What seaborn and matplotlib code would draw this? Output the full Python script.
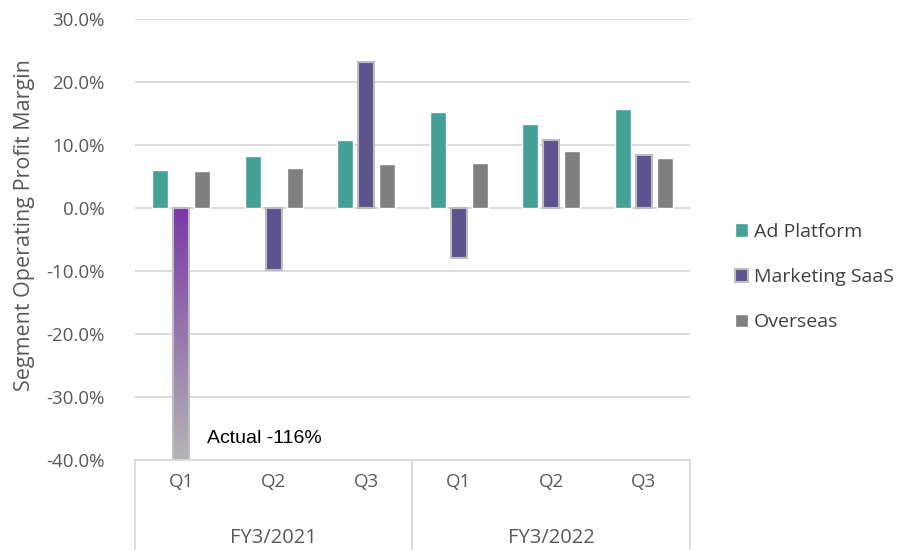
import numpy as np
import pandas as pd
import matplotlib.pyplot as plt
import matplotlib.colors as mcolors
from matplotlib.patches import Patch
import seaborn as sns

# data (percent)
fiscal_years = ["FY3/2021", "FY3/2022"]
quarters = ["Q1", "Q2", "Q3", "Q1", "Q2", "Q3"]
periods = ["FY3/2021 Q1", "FY3/2021 Q2", "FY3/2021 Q3",
           "FY3/2022 Q1", "FY3/2022 Q2", "FY3/2022 Q3"]
segments = ["Ad Platform", "Marketing SaaS", "Overseas"]
ad_platform = [6.0, 8.2, 10.8, 15.2, 13.4, 15.7]
marketing_saas = [-116.0, -9.9, 23.1, -7.9, 10.8, 8.4]
overseas = [5.8, 6.4, 7.0, 7.1, 9.0, 7.9]
y_ticks = [30, 20, 10, 0, -10, -20, -30, -40]

colors = {"Ad Platform": "#45a096", "Marketing SaaS": "#5e538f", "Overseas": "#7f7f7f"}

df = pd.DataFrame({
    "period": periods * 3,
    "segment": np.repeat(segments, len(periods)),
    "margin": ad_platform + marketing_saas + overseas,
})

sns.set_theme(style="white")
plt.rcParams["font.family"] = ["Open Sans", "DejaVu Sans"]

fig = plt.figure(figsize=(9.09, 5.5), dpi=100)
ax = fig.add_axes([0.1485, 0.1636, 0.6105, 0.8019])

sns.barplot(data=df, x="period", y="margin", hue="segment", order=periods,
            hue_order=segments, palette=colors, width=0.68, gap=0.24,
            legend=False, ax=ax, saturation=1)

ax.set_ylim(-40, 30)
ax.set_xlim(-0.5, len(periods) - 0.5)
ax.set_yticks(y_ticks)
ax.set_yticklabels([f"{v:.1f}%" for v in y_ticks], color="#595959", fontsize=13.5)
ax.tick_params(axis="y", length=0, pad=22)
ax.yaxis.grid(True, color="#d9d9d9", linewidth=1.3)
ax.set_axisbelow(True)
for s in ["left", "right", "top"]:
    ax.spines[s].set_visible(False)
ax.spines["bottom"].set_color("#d9d9d9")
ax.spines["bottom"].set_linewidth(1.3)

# marketing SaaS bars get a light outline
for bar in ax.containers[1]:
    bar.set_edgecolor("#bdbdbd")
    bar.set_linewidth(1.5)

# gradient for the clipped Q1 bar
big = ax.containers[1][0]
x0 = big.get_x()
x1 = x0 + big.get_width()
cmap = mcolors.LinearSegmentedColormap.from_list("fade", ["#7a38a8", "#b4b4b4"])
grad = np.linspace(0, 1, 256).reshape(-1, 1)
im = ax.imshow(grad, cmap=cmap, aspect="auto", extent=[x0, x1, -40, 0],
               origin="upper", zorder=big.get_zorder())
im.set_clip_path(big)
big.set_facecolor("none")
big.set_zorder(big.get_zorder() + 0.1)
ax.set_xlim(-0.5, len(periods) - 0.5)
ax.set_ylim(-40, 30)

ax.text(0.28, -36.6, "Actual -116%", fontsize=14, color="black",
        family=["Liberation Sans", "DejaVu Sans"], va="center")

# x axis: quarter labels and fiscal year groups
ax.set_xticks(range(len(periods)))
ax.set_xticklabels(quarters, color="#595959", fontsize=13.5)
ax.tick_params(axis="x", length=0, pad=9)
ax.set_xlabel("")
trans = ax.get_xaxis_transform()
for xv in [-0.5, 2.5, 5.5]:
    ax.plot([xv, xv], [0, -0.21], transform=trans, color="#d9d9d9",
            linewidth=1.3, clip_on=False)
for i, fy in enumerate(fiscal_years):
    ax.text(1 + 3 * i, -0.176, fy, transform=trans, ha="center", va="center",
            color="#595959", fontsize=14.5)

ax.set_ylabel("Segment Operating Profit Margin", color="#595959", fontsize=15.5)
ax.yaxis.set_label_coords(-0.181, 0.533)

handles = [Patch(facecolor=colors["Ad Platform"]),
           Patch(facecolor=colors["Marketing SaaS"], edgecolor="#bdbdbd", linewidth=1.5),
           Patch(facecolor=colors["Overseas"])]
fig.legend(handles, segments, loc="center left", bbox_to_anchor=(0.789, 0.496),
           frameon=False, fontsize=14, labelcolor="#404040", handlelength=0.7,
           handleheight=0.7, handletextpad=0.3, labelspacing=1.4)

fig.savefig("out.png", dpi=100)
